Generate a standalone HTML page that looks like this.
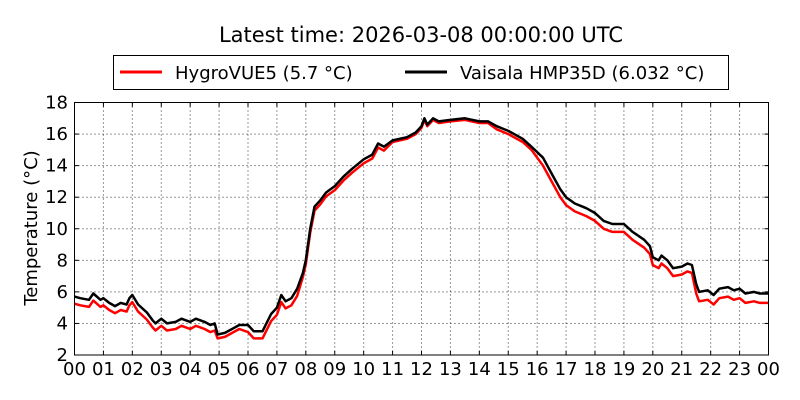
<!DOCTYPE html>
<html><head><meta charset="utf-8"><style>body{margin:0;background:#fff}svg{display:block;font-family:"DejaVu Sans","Liberation Sans",sans-serif}</style></head>
<body>
<svg id="s" width="800" height="400" viewBox="0 0 800 400">
<rect width="800" height="400" fill="#fff"/>
<text x="421" y="42" font-size="21" text-anchor="middle">Latest time: 2026-03-08 00:00:00 UTC</text>
<rect x="113.5" y="55.5" width="615" height="34" fill="#fff" stroke="#000" stroke-width="1"/>
<line x1="120" y1="72" x2="162" y2="72" stroke="red" stroke-width="3"/>
<text x="175" y="79" font-size="18">HygroVUE5 (5.7 °C)</text>
<line x1="405" y1="72" x2="447" y2="72" stroke="#000" stroke-width="3"/>
<text x="460" y="79" font-size="18">Vaisala HMP35D (6.032 °C)</text>
<g id="grid" stroke="#000" stroke-width="1" stroke-dasharray="1,3" opacity="0.8"></g>
<g id="lab" font-size="18"></g>
<text transform="translate(37,228) rotate(-90)" font-size="18" text-anchor="middle">Temperature (°C)</text>
<polyline id="r" fill="none" stroke="red" stroke-width="2.5" stroke-linejoin="round"/>
<polyline id="b" fill="none" stroke="#000" stroke-width="2.5" stroke-linejoin="round"/>
<rect x="74.5" y="102.5" width="694" height="252.5" fill="none" stroke="#000" stroke-width="1"/>
</svg>
<script>
var X0=74.5,X1=768.5,Y0=355,Y1=102.5;
function px(h){return X0+(X1-X0)*h/24}
function py(t){return Y0-(Y0-Y1)*(t-2)/16}
var ns="http://www.w3.org/2000/svg",g=document.getElementById('grid'),lab=document.getElementById('lab');
function el(p,n,a,t){var e=document.createElementNS(ns,n);for(var k in a)e.setAttribute(k,a[k]);if(t!=null)e.textContent=t;p.appendChild(e);return e}
for(var h=0;h<=24;h++){var x=px(h);if(h>0&&h<24)el(g,'line',{x1:x,x2:x,y1:Y1,y2:Y0});
el(lab,'text',{x:x,y:375,'text-anchor':'middle'},(h%24<10?'0':'')+(h%24));
el(document.getElementById('s'),'line',{x1:x,x2:x,y1:Y0,y2:Y0-4,stroke:'#000'});el(document.getElementById('s'),'line',{x1:x,x2:x,y1:Y1,y2:Y1+4,stroke:'#000'});}
for(var t=2;t<=18;t+=2){var y=py(t);if(t>2&&t<18)el(g,'line',{x1:X0,x2:X1,y1:y,y2:y});
el(lab,'text',{x:68,y:y+6,'text-anchor':'end'},t);
el(document.getElementById('s'),'line',{x1:X0,x2:X0+4,y1:y,y2:y,stroke:'#000'});el(document.getElementById('s'),'line',{x1:X1,x2:X1-4,y1:y,y2:y,stroke:'#000'});}
var B=[[0,5.7],[0.2,5.6],[0.5,5.5],[0.65,5.9],[0.9,5.5],[1,5.6],[1.2,5.3],[1.4,5.1],[1.6,5.3],[1.8,5.2],[1.9,5.6],[2,5.8],[2.2,5.2],[2.5,4.7],[2.7,4.2],[2.8,4.0],[3,4.3],[3.2,4.0],[3.5,4.1],[3.7,4.3],[4,4.1],[4.2,4.3],[4.5,4.1],[4.7,3.9],[4.85,4.0],[4.95,3.3],[5.2,3.4],[5.5,3.7],[5.7,3.9],[6,3.9],[6.2,3.5],[6.5,3.5],[6.8,4.6],[7,5.0],[7.15,5.8],[7.3,5.4],[7.5,5.6],[7.7,6.2],[7.9,7.2],[8,8.0],[8.15,10.0],[8.3,11.4],[8.5,11.8],[8.7,12.3],[9,12.7],[9.3,13.3],[9.6,13.8],[10,14.4],[10.3,14.7],[10.5,15.4],[10.7,15.2],[11,15.6],[11.5,15.8],[11.8,16.1],[12,16.5],[12.1,17.0],[12.2,16.6],[12.4,17.0],[12.6,16.8],[13,16.9],[13.5,17.0],[14,16.8],[14.3,16.8],[14.6,16.5],[15,16.2],[15.5,15.7],[15.8,15.2],[16.2,14.5],[16.5,13.5],[16.8,12.5],[17,12.0],[17.3,11.6],[17.7,11.3],[18,11.0],[18.3,10.5],[18.6,10.3],[19,10.3],[19.3,9.8],[19.7,9.3],[19.9,8.9],[20,8.2],[20.2,8.0],[20.3,8.3],[20.5,8.0],[20.7,7.5],[21,7.6],[21.2,7.8],[21.35,7.7],[21.5,6.5],[21.6,6.0],[21.9,6.1],[22.1,5.8],[22.3,6.2],[22.6,6.3],[22.8,6.1],[23,6.2],[23.2,5.9],[23.5,6.0],[23.7,5.9],[24,5.9]];
function off(h){if(h>4.9&&h<6)return -0.25;if(h<7.8)return -0.45;if(h<11)return -0.25;if(h<14.5)return -0.1;if(h<16)return -0.2;if(h<21.5)return -0.5;return -0.6}
function pts(f){return B.map(function(p){return px(p[0]).toFixed(1)+','+py(p[1]+f(p[0])).toFixed(1)}).join(' ')}
document.getElementById('b').setAttribute('points',pts(function(){return 0}));
document.getElementById('r').setAttribute('points',pts(off));
</script>
</body></html>
